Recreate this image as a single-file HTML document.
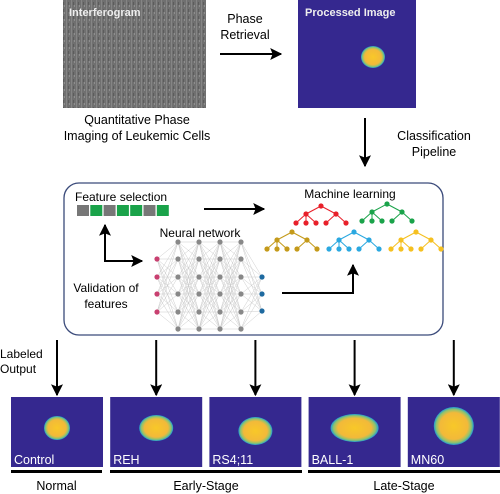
<!DOCTYPE html>
<html><head><meta charset="utf-8"><style>
html,body{margin:0;padding:0;background:#fff}
svg{display:block;font-family:"Liberation Sans",Arial,sans-serif}
</style></head><body>
<svg id="s" width="500" height="494" viewBox="0 0 500 494">
<defs>
<marker id="ah" viewBox="0 0 10 10" refX="9" refY="5" markerWidth="6" markerHeight="6" orient="auto"><path d="M0,0 L10,5 L0,10 L2,5 z" fill="#000"/></marker>
<radialGradient id="cell" cx="50%" cy="50%" r="50%"><stop offset="0" stop-color="#f8c828"/><stop offset="0.7" stop-color="#f2b93a"/><stop offset="0.88" stop-color="#8cc470"/><stop offset="1" stop-color="#1c9ad8"/></radialGradient>
<pattern id="noise" width="5" height="7" patternUnits="userSpaceOnUse"><rect width="5" height="7" fill="#707070"/><rect x="1" width="1" height="7" fill="#858585"/><rect x="3" y="2" width="1" height="3" fill="#5c5c5c"/><rect x="4" y="5" width="1" height="2" fill="#8e8e8e"/></pattern>
</defs>
<g>
<rect x="63" y="0" width="143" height="108" fill="url(#noise)"/>
<text x="69" y="16" font-size="11" font-weight="bold" fill="#eee">Interferogram</text></g>
<text x="137" y="124" font-size="12.5" text-anchor="middle"><tspan x="137">Quantitative Phase</tspan><tspan x="137" dy="16">Imaging of Leukemic Cells</tspan></text>
<text x="245" y="23" font-size="12.5" text-anchor="middle"><tspan x="245">Phase</tspan><tspan x="245" dy="16">Retrieval</tspan></text>
<line x1="220" y1="54" x2="281" y2="54" stroke="#000" stroke-width="2" marker-end="url(#ah)"/>
<g>
<rect x="298" y="0" width="118" height="108" fill="#35288f"/>
<ellipse cx="373" cy="57" rx="12" ry="11" fill="url(#cell)"/>
<text x="305" y="16" font-size="11" font-weight="bold" fill="#eee">Processed Image</text></g>
<line x1="365" y1="118" x2="365" y2="166" stroke="#000" stroke-width="2" marker-end="url(#ah)"/>
<text x="434" y="140" font-size="12.5" text-anchor="middle"><tspan x="434">Classification</tspan><tspan x="434" dy="16">Pipeline</tspan></text>
<rect x="64" y="183" width="379" height="152" rx="15" fill="none" stroke="#3a4a7a" stroke-width="1.3"/>
<text x="75" y="201" font-size="12">Feature selection</text>
<g id="sq"></g>
<line x1="204" y1="209" x2="264" y2="209" stroke="#000" stroke-width="2" marker-end="url(#ah)"/>
<polyline points="105,232 105,261 134,261" fill="none" stroke="#000" stroke-width="2"/>
<line x1="105" y1="240" x2="105" y2="225" stroke="#000" stroke-width="2" marker-end="url(#ah)"/>
<line x1="128" y1="261" x2="142" y2="261" stroke="#000" stroke-width="2" marker-end="url(#ah)"/>
<text font-size="12" text-anchor="middle"><tspan x="106" y="292">Validation of</tspan><tspan x="106" dy="16">features</tspan></text>
<text x="200" y="237" font-size="12" text-anchor="middle">Neural network</text>
<g id="nn"></g>
<polyline points="282,293 353,293 353,272" fill="none" stroke="#000" stroke-width="2"/>
<line x1="353" y1="280" x2="353" y2="265" stroke="#000" stroke-width="2" marker-end="url(#ah)"/>
<text x="350" y="198" font-size="12" text-anchor="middle">Machine learning</text>
<g id="trees"></g>
<text font-size="12"><tspan x="0" y="358">Labeled</tspan><tspan x="0" dy="15">Output</tspan></text>
<g id="bottom"></g>
</svg>
<script>
const sqColors=['#777','#1aa34a','#777','#1aa34a','#1aa34a','#777','#1aa34a'];
const cellNames=['Control','REH','RS4;11','BALL-1','MN60'];
const groups=['Normal','Early-Stage','Late-Stage'];
const NS='http://www.w3.org/2000/svg';
function mk(t,a,p){const e=document.createElementNS(NS,t);for(const k in a)e.setAttribute(k,a[k]);p.appendChild(e);return e;}
const sq=document.getElementById('sq');
sqColors.forEach((c,i)=>{const r=mk('rect',{x:77+i*13.3,y:205,width:12,height:11,fill:c},sq);

});
const nn=document.getElementById('nn');
const cols=[{x:157,ys:[259,277,294,312],c:'#c84070'}];
[178,199,220,241].forEach(x=>cols.push({x,ys:[242,259,277,294,312,329],c:'#888'}));
cols.push({x:262,ys:[277,294,311],c:'#1e6aa0'});
for(let i=0;i<cols.length-1;i++)for(const y1 of cols[i].ys)for(const y2 of cols[i+1].ys)mk('line',{x1:cols[i].x,y1,x2:cols[i+1].x,y2,stroke:'#ccc','stroke-width':0.5},nn);
cols.forEach(c=>c.ys.forEach(y=>{const n=mk('circle',{cx:c.x,cy:y,r:2.6,fill:c.c},nn);

}));
const tr=document.getElementById('trees');
[[321,206,'#e8202a'],[387,204,'#1aa34a'],[292,232,'#c49a1a'],[354,232,'#2aa8e0'],[416,232,'#f5c020']].forEach(([x,y,c])=>{
 const g=mk('g',{},tr);
 
 
 const L=[x-15,y+8],R=[x+15,y+8];
 const leaves=[[L,-10],[L,0],[L,10],[R,-10],[R,10]];
 [L,R].forEach(p=>mk('line',{x1:x,y1:y,x2:p[0],y2:p[1],stroke:c,'stroke-width':1},g));
 leaves.forEach(([p,d])=>mk('line',{x1:p[0],y1:p[1],x2:p[0]+d,y2:y+17,stroke:c,'stroke-width':1},g));
 mk('circle',{cx:x,cy:y,r:2.6,fill:c},g);
 [L,R].forEach(p=>mk('circle',{cx:p[0],cy:p[1],r:2.6,fill:c},g));
 leaves.forEach(([p,d])=>mk('circle',{cx:p[0]+d,cy:y+17,r:2.6,fill:c},g));
});
const b=document.getElementById('bottom');
const shapes=[[0,0,13,12],[0,0,17,13],[0,3,17,14],[0,0,24,14],[0,-2,20,19]];
cellNames.forEach((n,i)=>{
 const x=11+i*99.2, cx=x+46;
 const a=mk('line',{x1:cx,y1:340,x2:cx,y2:395,stroke:'#000','stroke-width':2,'marker-end':'url(#ah)'},b);
 
 
 const g=mk('g',{},b);
 
 
 mk('rect',{x,y:397,width:92,height:70,fill:'#35288f'},g);
 const s=shapes[i];
 mk('ellipse',{cx:cx+s[0],cy:428+s[1],rx:s[2],ry:s[3],fill:'url(#cell)'},g);
 const t=mk('text',{x:x+3,y:464,'font-size':12.5,fill:'#fff'},g);t.textContent=n;
});
[[11,102,'Normal'],[110,302,'Early-Stage'],[308,500,'Late-Stage']].forEach(([a,c,l])=>{
 const r=mk('rect',{x:a,y:470,width:c-a,height:3,fill:'#000'},b);
 
 
 const t=mk('text',{x:(a+c)/2,y:490,'font-size':12.5,'text-anchor':'middle'},b);t.textContent=l;
 
 
});
</script>
</body></html>
